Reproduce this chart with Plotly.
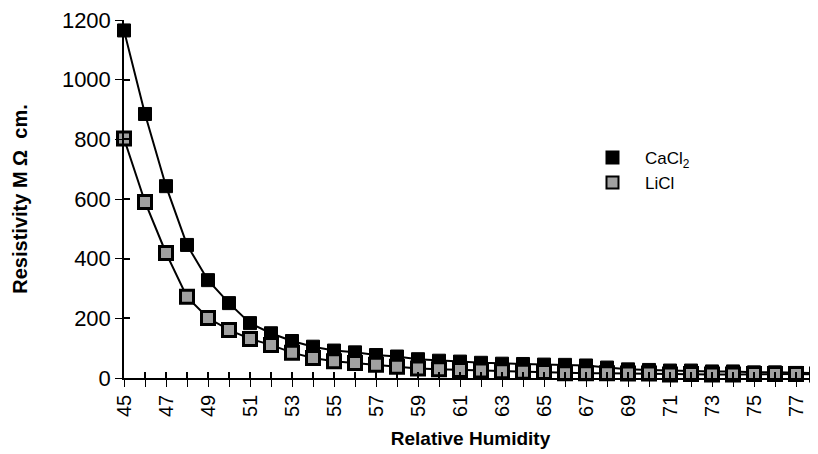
import plotly.graph_objects as go

humidity = list(range(45, 79))
cacl2 = [1165, 885, 643, 446, 328, 251, 184, 150, 124, 105, 92, 86, 77, 72, 63, 58,
         55, 51, 48, 47, 45, 44, 42, 35, 29, 27, 25, 25, 22, 22, 19, 19, 17, 16]
licl = [803, 590, 419, 272, 201, 161, 131, 111, 85, 67, 56, 50, 44, 38, 32, 29,
        27, 25, 23, 21, 20, 16, 16, 16, 15, 15, 12, 13, 12, 12, 13, 13, 13, 12]
tick_vals = list(range(45, 79, 2))
y_ticks = [0, 200, 400, 600, 800, 1000, 1200]
series_names = ["CaCl<sub>2</sub>", "LiCl"]

FONT = "Liberation Sans, Arial, sans-serif"
CA_MARKER = dict(symbol="square", size=13, color="black", line=dict(color="black", width=1))
LI_MARKER = dict(symbol="square", size=13, color="#a0a0a0", line=dict(color="black", width=3))

fig = go.Figure()
fig.add_trace(go.Scatter(x=humidity, y=cacl2, mode="lines+markers", showlegend=False,
                         line=dict(color="black", width=2), marker=CA_MARKER, cliponaxis=False))
fig.add_trace(go.Scatter(x=humidity, y=licl, mode="lines+markers", showlegend=False,
                         line=dict(color="black", width=2), marker=LI_MARKER, cliponaxis=False))
# legend entries (markers only, as in the reference)
fig.add_trace(go.Scatter(x=[None], y=[None], mode="markers", name=series_names[0], marker=CA_MARKER))
fig.add_trace(go.Scatter(x=[None], y=[None], mode="markers", name=series_names[1], marker=LI_MARKER))
# overlay axes carry the inward half of the crossing ticks
fig.add_trace(go.Scatter(x=humidity, y=cacl2, xaxis="x2", yaxis="y2", mode="markers",
                         marker=dict(opacity=0), showlegend=False, hoverinfo="skip"))

fig.update_layout(
    width=810, height=446,
    margin=dict(l=116, r=1, t=12, b=76),
    paper_bgcolor="white", plot_bgcolor="white",
    font=dict(family=FONT, color="black"),
    showlegend=True,
    legend=dict(x=0.658, y=0.665, xanchor="left", yanchor="top",
                font=dict(size=17, family=FONT), bgcolor="rgba(0,0,0,0)",
                itemsizing="constant", itemwidth=55, tracegroupgap=2),
    xaxis=dict(
        range=[45, 78], tickmode="array", tickvals=humidity,
        ticktext=[str(v) if v in tick_vals else "" for v in humidity],
        tickangle=-90, ticks="outside", ticklen=7, tickwidth=1.2, tickcolor="black",
        showline=True, linecolor="black", linewidth=1.5, showgrid=False, zeroline=False,
        tickfont=dict(size=20, family=FONT), ticklabeloverflow="allow",
        title=dict(text="<b>Relative Humidity</b>", font=dict(size=19, family=FONT), standoff=16),
    ),
    yaxis=dict(
        range=[0, 1200], tickvals=y_ticks, ticks="outside", ticklen=7, tickwidth=1.2,
        tickcolor="black", showline=True, linecolor="black", linewidth=1.5,
        showgrid=False, zeroline=False, tickfont=dict(size=22, family=FONT),
        ticklabeloverflow="allow",
        title=dict(text="<b>Resistivity M Ω  cm.</b>", font=dict(size=20, family=FONT), standoff=29),
    ),
    xaxis2=dict(range=[45, 78], overlaying="x", tickvals=humidity, showticklabels=False,
                ticks="inside", ticklen=6, tickwidth=1.5, tickcolor="black",
                showgrid=False, zeroline=False, anchor="y2", side="bottom"),
    yaxis2=dict(range=[0, 1200], overlaying="y", tickvals=y_ticks, showticklabels=False,
                ticks="inside", ticklen=6, tickwidth=1.5, tickcolor="black",
                showgrid=False, zeroline=False, anchor="x2", side="left"),
)

fig.write_html("out.html")
